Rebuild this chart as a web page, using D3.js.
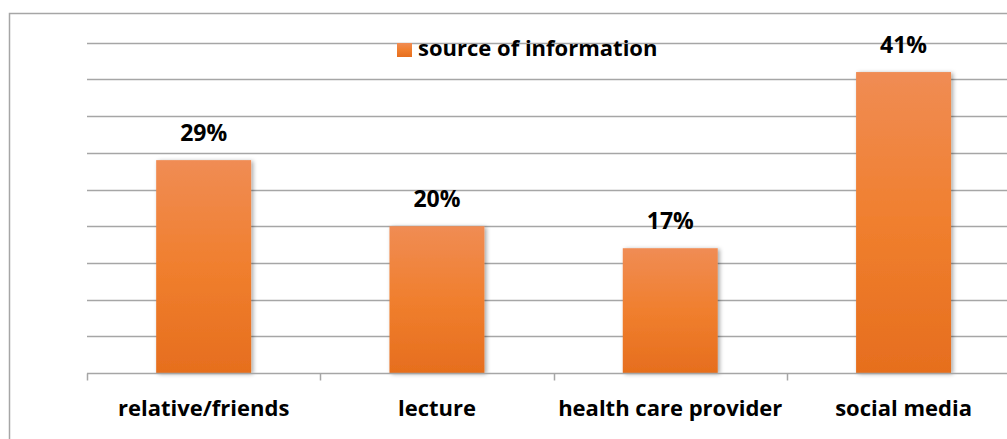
<!DOCTYPE html>
<html>
<head>
  <meta charset="utf-8">
  <script src="https://d3js.org/d3.v7.min.js"></script>
  <style>
    body { margin: 0; background: #fff; }
    svg { display: block; }
    text { font-family: "Open Sans", sans-serif; font-weight: bold; fill: #000; }
  </style>
</head>
<body>
<script>
  // chart data
  var categories = ["relative/friends", "lecture", "health care provider", "social media"];
  var values = [29, 20, 17, 41];
  var seriesName = "source of information";

  var width = 1007, height = 439;

  var svg = d3.select("body").append("svg")
    .attr("width", width)
    .attr("height", height);

  // gradient + shadow for bars
  var defs = svg.append("defs");
  var grad = defs.append("linearGradient")
    .attr("id", "barGrad")
    .attr("x1", 0).attr("y1", 0).attr("x2", 0).attr("y2", 1);
  grad.append("stop").attr("offset", "0%").attr("stop-color", "#f08c54");
  grad.append("stop").attr("offset", "50%").attr("stop-color", "#f07f2e");
  grad.append("stop").attr("offset", "100%").attr("stop-color", "#e66e1e");

  var shadow = defs.append("filter")
    .attr("id", "shadow")
    .attr("x", "-20%").attr("y", "-20%").attr("width", "140%").attr("height", "140%");
  shadow.append("feDropShadow")
    .attr("dx", 2).attr("dy", 1)
    .attr("stdDeviation", 2)
    .attr("flood-color", "#000")
    .attr("flood-opacity", 0.35);

  // outer border (chart area is cut off on the right / bottom)
  svg.append("path")
    .attr("d", "M9.5," + height + "V13.5H" + width)
    .attr("fill", "none")
    .attr("stroke", "#a6a6a6")
    .attr("stroke-width", 1.5);

  var plotLeft = 87, step = 233.3, baseY = 373;

  var x = d3.scaleBand()
    .domain(categories)
    .range([plotLeft, plotLeft + step * categories.length])
    .paddingInner(0.593)
    .paddingOuter(0.593 / 2);

  var y = d3.scaleLinear()
    .domain([0, 45])
    .range([baseY, 42.7]);

  // gridlines
  svg.append("g")
    .selectAll("line")
    .data(d3.range(5, 50, 5))
    .join("line")
      .attr("x1", plotLeft)
      .attr("x2", width)
      .attr("y1", function (d) { return Math.round(y(d)) + 0.5; })
      .attr("y2", function (d) { return Math.round(y(d)) + 0.5; })
      .attr("stroke", "#a6a6a6")
      .attr("stroke-width", 1.5);

  // bars
  svg.append("g")
    .selectAll("rect")
    .data(values)
    .join("rect")
      .attr("x", function (d, i) { return x(categories[i]); })
      .attr("y", function (d) { return y(d); })
      .attr("width", x.bandwidth())
      .attr("height", function (d) { return baseY - y(d); })
      .attr("fill", "url(#barGrad)")
      .attr("filter", "url(#shadow)");

  // x axis: line + category boundary ticks
  var axisG = svg.append("g").attr("transform", "translate(0," + (baseY + 0.5) + ")");
  axisG.append("line")
    .attr("x1", plotLeft).attr("x2", width)
    .attr("stroke", "#a6a6a6").attr("stroke-width", 1.5);
  axisG.selectAll(".tick")
    .data(categories)
    .join("line")
      .attr("class", "tick")
      .attr("x1", function (d) { return Math.round(x(d) - x.step() * x.paddingInner() / 2) + 0.5; })
      .attr("x2", function (d) { return Math.round(x(d) - x.step() * x.paddingInner() / 2) + 0.5; })
      .attr("y1", 0).attr("y2", 7)
      .attr("stroke", "#a6a6a6").attr("stroke-width", 1.5);

  // category labels
  svg.append("g")
    .selectAll("text")
    .data(categories)
    .join("text")
      .attr("x", function (d) { return x(d) + x.bandwidth() / 2; })
      .attr("y", 416)
      .attr("text-anchor", "middle")
      .style("font-size", "22px")
      .text(function (d) { return d; });

  // value labels
  svg.append("g")
    .selectAll("text")
    .data(values)
    .join("text")
      .attr("x", function (d, i) { return x(categories[i]) + x.bandwidth() / 2; })
      .attr("y", function (d) { return y(d) - 19; })
      .attr("text-anchor", "middle")
      .style("font-size", "23px")
      .text(function (d) { return d + "%"; });

  // legend
  var legend = svg.append("g").attr("transform", "translate(397,43)");
  legend.append("rect")
    .attr("width", 15).attr("height", 14)
    .attr("fill", "url(#barGrad)");
  legend.append("text")
    .attr("x", 21)
    .attr("y", 13)
    .style("font-size", "22px")
    .text(seriesName);
</script>
</body>
</html>
